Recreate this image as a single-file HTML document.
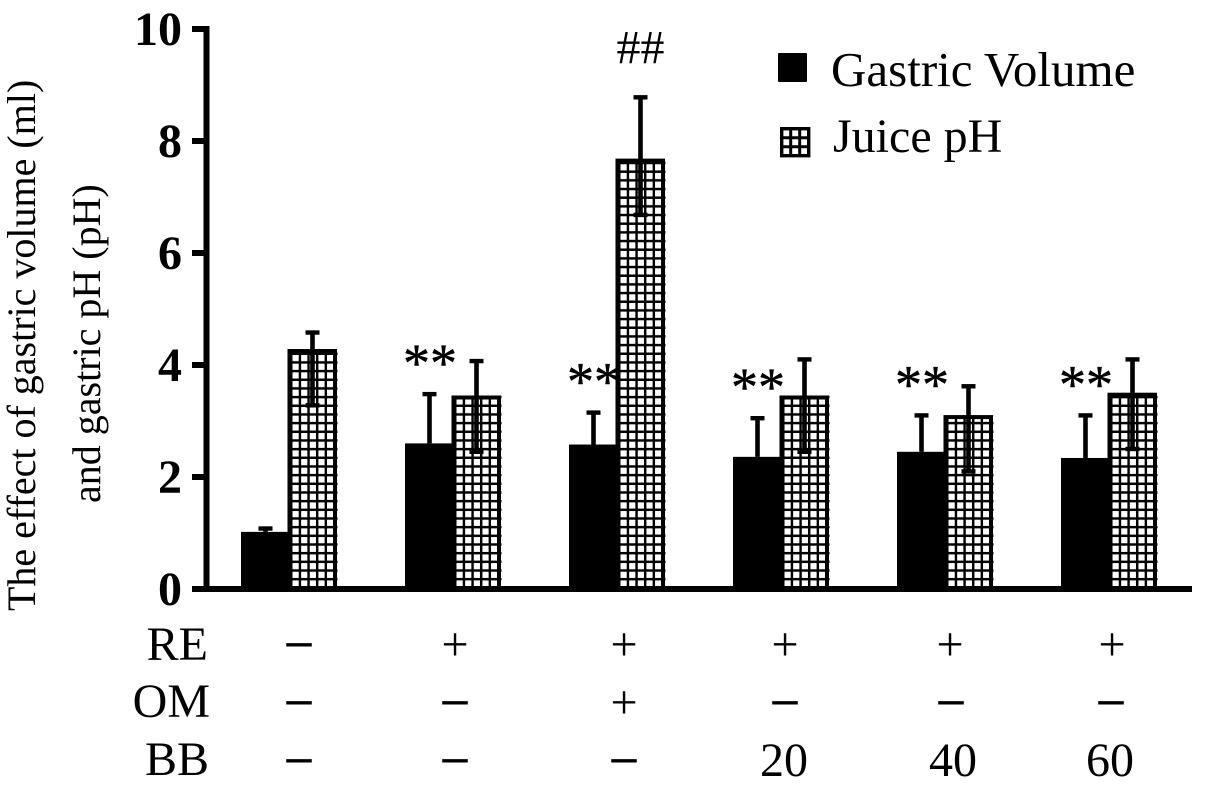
<!DOCTYPE html>
<html><head><meta charset="utf-8"><title>Gastric volume and juice pH</title>
<style>html,body{margin:0;padding:0;background:#fff;width:1205px;height:789px;overflow:hidden}svg{display:block}text{font-family:"Liberation Serif",serif;fill:#000}.dash{stroke:#000;stroke-width:.9px}</style></head>
<body>
<svg id="chart" width="1205" height="789" viewBox="0 0 1205 789" xmlns="http://www.w3.org/2000/svg">
<defs>
<pattern id="grid" patternUnits="userSpaceOnUse" x="290.1" y="578" width="8.632" height="8.67">
<rect width="8.632" height="8.67" fill="#000"/><rect x="2.4" y="2.4" width="6.2" height="6.2" fill="#fff"/></pattern>
</defs>
<g id="marks"></g>
<g id="axes"></g>
<g font-size="40">
<text transform="translate(35,611) rotate(-90)">The effect of gastric volume (ml)</text>
<text transform="translate(100,503) rotate(-90)">and gastric pH (pH)</text>
</g>
<g>
<rect x="778" y="53" width="29" height="29" rx="1" fill="#000"/>
<text x="831" y="86" font-size="49">Gastric Volume</text>
<rect x="781.7" y="128.7" width="27" height="27" fill="#fff" stroke="#000" stroke-width="3.4"/>
<path d="M790.7 128V156M799.7 128V156M781 137.7H809M781 146.7H809" stroke="#000" stroke-width="3" fill="none"/>
<text x="833" y="152" font-size="48">Juice pH</text>
</g>
<g font-size="48">
<text x="208" y="660" text-anchor="end">RE</text>
<text x="210" y="717" text-anchor="end">OM</text>
<text x="209" y="775" text-anchor="end">BB</text>
<g text-anchor="middle">
<text class="dash" x="299" y="656">–</text>
<text x="455" y="660">+</text>
<text x="624" y="660">+</text>
<text x="785" y="660">+</text>
<text x="950" y="660">+</text>
<text x="1112" y="660">+</text>
<text class="dash" x="299" y="714">–</text>
<text class="dash" x="455" y="714">–</text>
<text x="624" y="718">+</text>
<text class="dash" x="785" y="714">–</text>
<text class="dash" x="951" y="714">–</text>
<text class="dash" x="1111" y="714">–</text>
<text class="dash" x="299" y="772">–</text>
<text class="dash" x="455" y="772">–</text>
<text class="dash" x="624" y="772">–</text>
<text x="784" y="776">20</text>
<text x="953" y="776">40</text>
<text x="1110" y="776">60</text>
</g>
</g>
</svg>
<script>
const groups = ['control', 'RE', 'RE+OM', 'RE+BB20', 'RE+BB40', 'RE+BB60'];
const gastricVolume = [1.02, 2.6, 2.58, 2.36, 2.45, 2.34];
const gastricError = [0.06, 0.88, 0.57, 0.69, 0.65, 0.76];
const juicePH = [4.28, 3.45, 7.68, 3.45, 3.1, 3.5];
const juiceErrorUp = [0.3, 0.62, 1.1, 0.65, 0.52, 0.6];
const juiceErrorDown = [1, 1, 1, 1, 1, 1];
const yTicks = [0, 2, 4, 6, 8, 10];
const significance = ['', '**', '**', '**', '**', '**'];
const hashMarks = ['', '', '##', '', '', ''];

const NS = 'http://www.w3.org/2000/svg';
const Y0 = 589, PX_PER_UNIT = 56, X0 = 241, GROUP_STEP = 164, BAR_W = 50;
function yScale(v) { return Y0 - v * PX_PER_UNIT; }
function xGastric(i) { return X0 + i * GROUP_STEP; }
function xJuice(i) { return xGastric(i) + 46.5; }
function make(parent, tag, attrs, text) {
  const el = document.createElementNS(NS, tag);
  for (const k in attrs) el.setAttribute(k, attrs[k]);
  if (text !== undefined) el.textContent = text;
  parent.appendChild(el);
  return el;
}
function errorBar(parent, cx, value, up, down, name) {
  const top = yScale(value + up);
  const bottom = yScale(value - down);
  const g = make(parent, 'g', {stroke: '#000', fill: 'none'});
  
  
  make(g, 'line', {x1: cx, x2: cx, y1: top, y2: bottom, 'stroke-width': 4.6});
  make(g, 'line', {x1: cx - 7, x2: cx + 7, y1: top, y2: top, 'stroke-width': 4.4});
  if (down > 0) make(g, 'line', {x1: cx - 7, x2: cx + 7, y1: bottom, y2: bottom, 'stroke-width': 4.4});
}
const marks = document.getElementById('marks');
groups.forEach((group, i) => {
  const xg = xGastric(i), xj = xJuice(i);
  const jb = make(marks, 'rect', {x: xj, y: yScale(juicePH[i]), width: BAR_W, height: Y0 - yScale(juicePH[i]), fill: 'url(#grid)'});
  
  
  const jo = make(marks, 'rect', {x: xj + 2, y: yScale(juicePH[i]) + 1.7, width: BAR_W - 4.5, height: Y0 - yScale(juicePH[i]) - 1.7, fill: 'none', stroke: '#000', 'stroke-width': 4});
  
  
  const gb = make(marks, 'rect', {x: xg, y: yScale(gastricVolume[i]), width: 50, height: Y0 - yScale(gastricVolume[i]), fill: '#000'});
  
  
  errorBar(marks, xg + 24.5, gastricVolume[i], gastricError[i], 0, 'error-gastric-volume-' + (i + 1));
  errorBar(marks, xj + 25, juicePH[i], juiceErrorUp[i], juiceErrorDown[i], 'error-juice-ph-' + (i + 1));
  if (significance[i]) {
    const s = make(marks, 'text', {x: xg + 25, y: yScale(gastricVolume[i] + gastricError[i]) - 13, 'font-size': 54, 'text-anchor': 'middle', stroke: '#000', 'stroke-width': 0.5}, significance[i]);
    
    
  }
  if (hashMarks[i]) {
    const h = make(marks, 'text', {x: xj + 25, y: yScale(juicePH[i] + juiceErrorUp[i]) - 34, 'font-size': 48, 'text-anchor': 'middle'}, hashMarks[i]);
    
    
  }
});
const axes = document.getElementById('axes');
const xAxis = make(axes, 'rect', {x: 192, y: Y0 - 3, width: 1000, height: 6, fill: '#000'});


const yAxis = make(axes, 'rect', {x: 203.5, y: yScale(10) - 3, width: 6, height: Y0 - yScale(10) + 3, fill: '#000'});


yTicks.forEach(t => {
  const tick = make(axes, 'rect', {x: 192, y: yScale(t) - 3, width: 13, height: 6, fill: '#000'});
  
  
  const lab = make(axes, 'text', {x: 182, y: yScale(t) + 16, 'font-size': 48, 'font-weight': 'bold', 'text-anchor': 'end'}, String(t));
  
  
});
</script>
</body></html>
